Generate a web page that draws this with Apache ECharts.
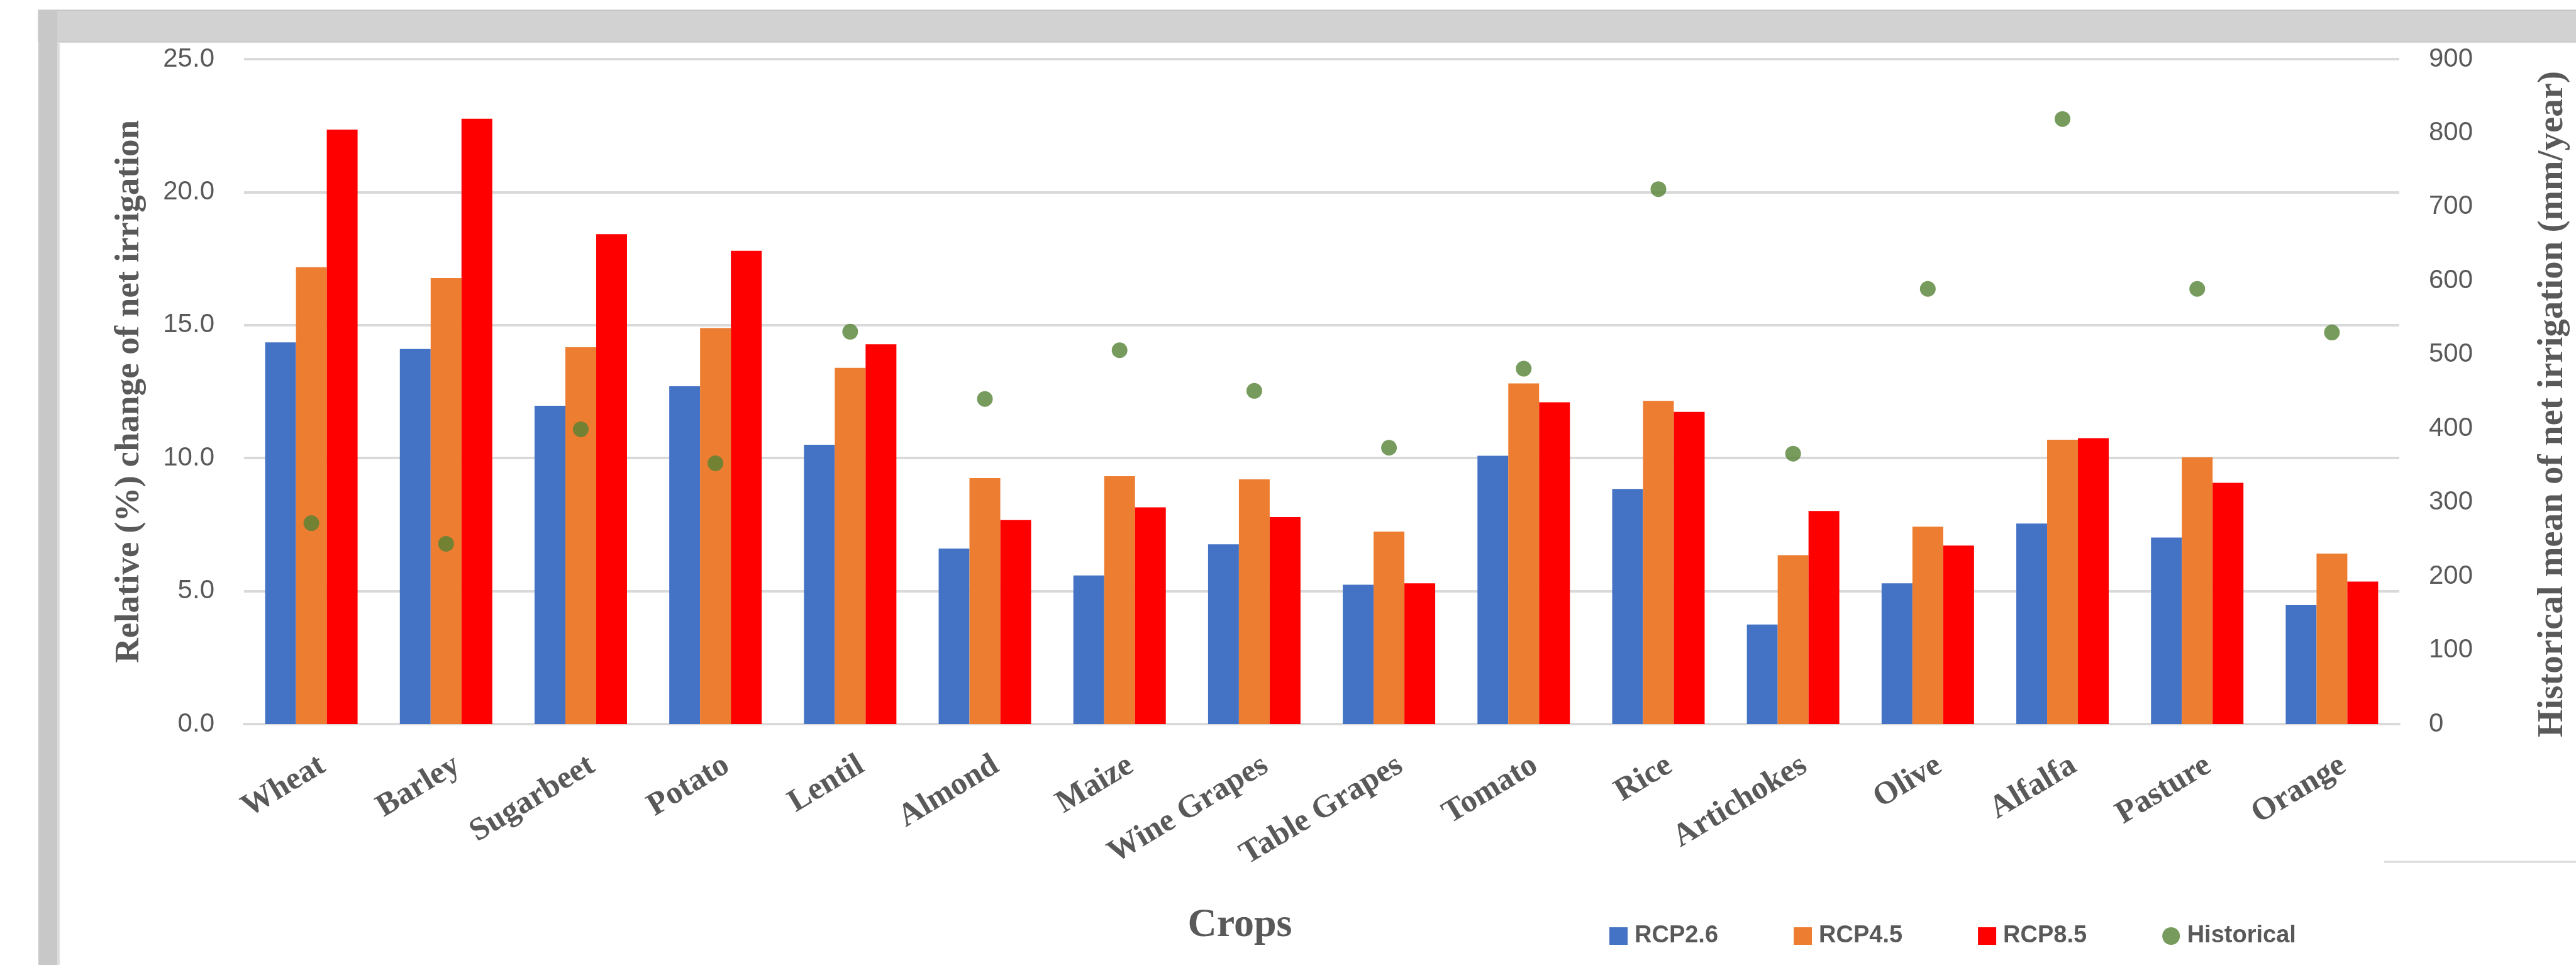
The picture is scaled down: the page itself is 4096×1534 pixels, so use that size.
<!DOCTYPE html>
<html>
<head>
<meta charset="utf-8">
<script src="https://cdn.jsdelivr.net/npm/echarts@6/dist/echarts.min.js"></script>
<style>
  html, body { margin: 0; padding: 0; background: #fff; }
  #chart { width: 4096px; height: 1534px; }
</style>
</head>
<body>
<div id="chart"></div>
<script>
// crops on the x axis
var crops = ['Wheat', 'Barley', 'Sugarbeet', 'Potato', 'Lentil', 'Almond', 'Maize', 'Wine Grapes',
  'Table Grapes', 'Tomato', 'Rice', 'Artichokes', 'Olive', 'Alfalfa', 'Pasture', 'Orange'];

// relative (%) change of net irrigation
var rcp26 = [14.35, 14.10, 11.97, 12.70, 10.50, 6.60, 5.59, 6.76, 5.24, 10.09, 8.84, 3.74, 5.29, 7.54, 7.01, 4.47];
var rcp45 = [17.18, 16.77, 14.17, 14.89, 13.39, 9.25, 9.32, 9.20, 7.24, 12.81, 12.15, 6.35, 7.42, 10.69, 10.03, 6.41];
var rcp85 = [22.35, 22.76, 18.42, 17.79, 14.28, 7.67, 8.15, 7.78, 5.29, 12.10, 11.74, 8.01, 6.71, 10.75, 9.07, 5.36];

// historical mean of net irrigation (mm/year)
var historical = [272, 244, 399, 353, 531, 440, 506, 451, 374, 481, 724, 366, 589, 819, 589, 530];

var seriesNames = ['RCP2.6', 'RCP4.5', 'RCP8.5', 'Historical'];

var grey = '#595959';
var serif = '"Liberation Serif", "Times New Roman", serif';
var sans = '"Liberation Sans", Arial, sans-serif';

var chart = echarts.init(document.getElementById('chart'));

var option = {
  backgroundColor: '#ffffff',
  animation: false,
  grid: { left: 388, right: 187, top: 94, bottom: 383, containLabel: false },
  // grey frame round the chart area
  graphic: [
    { type: 'rect', silent: true, shape: { x: 61, y: 16, width: 4040, height: 51 },
      style: { fill: '#d2d2d2', stroke: '#b4b4b4', lineWidth: 1 } },
    { type: 'rect', silent: true, shape: { x: 61, y: 16, width: 30, height: 1530 },
      style: { fill: '#c8c8c8' } },
    { type: 'rect', silent: true, shape: { x: 91, y: 67, width: 4, height: 1480 },
      style: { fill: '#dedede' } },
    { type: 'line', silent: true, shape: { x1: 3791, y1: 1370, x2: 4096, y2: 1370 },
      style: { stroke: '#d9d9d9', lineWidth: 3 } }
  ],
  legend: {
    data: [
      { name: 'RCP2.6', icon: 'rect' },
      { name: 'RCP4.5', icon: 'rect' },
      { name: 'RCP8.5', icon: 'rect' },
      { name: 'Historical', icon: 'circle' }
    ],
    left: 2554,
    top: 1464,
    itemWidth: 29,
    itemHeight: 28,
    itemGap: 120,
    textStyle: { color: grey, fontSize: 38, fontWeight: 'bold', fontFamily: sans,
      width: 146, padding: [0, 0, 0, 6] }
  },
  xAxis: {
    type: 'category',
    data: crops,
    name: 'Crops',
    nameLocation: 'middle',
    nameGap: 288,
    nameTextStyle: { color: grey, fontSize: 64, fontWeight: 'bold', fontFamily: serif,
      padding: [0, 260, 0, 0] },
    axisLine: { lineStyle: { color: '#d9d9d9', width: 4 } },
    axisTick: { show: false },
    axisLabel: { rotate: 31, margin: 73, interval: 0, color: grey, fontSize: 51,
      fontWeight: 'bold', fontFamily: serif, padding: [0, -21, 0, 0] }
  },
  yAxis: [
    {
      type: 'value',
      min: 0, max: 25, interval: 5,
      name: 'Relative (%) change of net irrigation',
      nameLocation: 'middle',
      nameRotate: 90,
      nameGap: 155,
      nameTextStyle: { color: grey, fontSize: 55, fontWeight: 'bold', fontFamily: serif },
      axisLine: { show: false },
      axisTick: { show: false },
      splitLine: { lineStyle: { color: '#d9d9d9', width: 4 } },
      axisLabel: { margin: 47, color: grey, fontSize: 42, fontFamily: sans,
        formatter: function (v) { return v.toFixed(1); } }
    },
    {
      type: 'value',
      min: 0, max: 900, interval: 100,
      position: 'right',
      name: 'Historical mean of net irrigation (mm/year)',
      nameLocation: 'middle',
      nameRotate: 90,
      nameGap: 216,
      nameTextStyle: { color: grey, fontSize: 57, fontWeight: 'bold', fontFamily: serif,
        padding: [0, 40, 0, 0] },
      axisLine: { show: false },
      axisTick: { show: false },
      splitLine: { show: false },
      axisLabel: { margin: 47, color: grey, fontSize: 42, fontFamily: sans }
    }
  ],
  series: [
    { name: seriesNames[0], type: 'bar', data: rcp26, barWidth: 49, barGap: '0%',
      itemStyle: { color: '#4472c4' } },
    { name: seriesNames[1], type: 'bar', data: rcp45, barWidth: 49, barGap: '0%',
      itemStyle: { color: '#ed7d31' } },
    { name: seriesNames[2], type: 'bar', data: rcp85, barWidth: 49, barGap: '0%',
      itemStyle: { color: '#ff0000' } },
    { name: seriesNames[3], type: 'scatter', yAxisIndex: 1, data: historical, symbolSize: 25,
      itemStyle: { color: '#548235' }, z: 5 }
  ]
};

chart.setOption(option);
</script>
</body>
</html>
